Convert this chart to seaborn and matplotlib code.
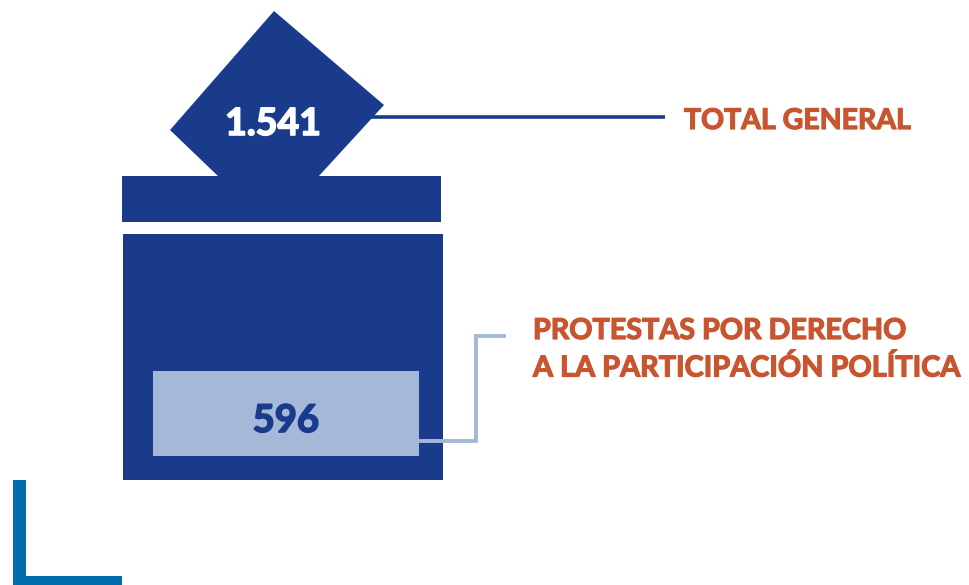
import matplotlib
matplotlib.use("Agg")
import matplotlib.pyplot as plt
import matplotlib.patheffects as pe
from matplotlib.patches import Polygon, Rectangle
import seaborn as sns

# datos de la urna
total_label = "TOTAL GENERAL"
protest_label = ["PROTESTAS POR DERECHO", "A LA PARTICIPACIÓN POLÍTICA"]
total_value = "1.541"
protest_value = "596"

NAVY = "#1a3a8c"
LIGHT = "#a4b9d8"
ORANGE = "#c8552f"
CORNER = "#006cae"

sns.set_theme(style="white")
plt.rcParams["font.family"] = ["Lato", "DejaVu Sans"]

fig = plt.figure(figsize=(9.7, 5.85), dpi=100)
ax = fig.add_axes([0, 0, 1, 1])


def box(x0, y0, x1, y1, color):
    ax.add_patch(Rectangle((x0, y0), x1 - x0, y1 - y0, fc=color, ec="none"))


def label(x, y, s, color, size, ha="left", stroke=0.9):
    t = ax.text(x, y, s, color=color, fontsize=size, fontweight="bold",
                ha=ha, va="center")
    t.set_path_effects([pe.withStroke(linewidth=stroke, foreground=color)])


# lineas guia
sns.lineplot(x=[370, 665], y=[116.7, 116.7], color=NAVY, lw=2.6, ax=ax,
             sort=False, estimator=None, solid_capstyle="butt")
sns.lineplot(x=[419, 476, 476, 506], y=[440.5, 440.5, 336, 336], color=LIGHT, lw=2.8,
             ax=ax, sort=False, estimator=None,
             solid_capstyle="butt", solid_joinstyle="miter")

# papeleta, tapa y cuerpo
ax.add_patch(Polygon([(274, 11), (384, 105), (318, 177), (219, 177), (170, 130)],
                     closed=True, fc=NAVY, ec="none"))
box(122.5, 176, 441, 221.5, NAVY)
box(123, 234, 443, 480, NAVY)
box(153, 371, 419, 456, LIGHT)

# esquina decorativa
box(13, 480, 26, 585, CORNER)
box(13, 576, 122.5, 585, CORNER)

ax.set_xlim(0, 970)
ax.set_ylim(585, 0)
ax.axis("off")

# textos
label(273, 124, total_value, "white", 27, ha="center", stroke=1.2)
label(286, 421, protest_value, NAVY, 27.5, ha="center", stroke=1.2)
label(684, 121, total_label, ORANGE, 20.5)
label(533, 331, protest_label[0], ORANGE, 20.7)
label(533, 368, protest_label[1], ORANGE, 20.8)

fig.savefig("out.png", dpi=100)
plt.close(fig)
